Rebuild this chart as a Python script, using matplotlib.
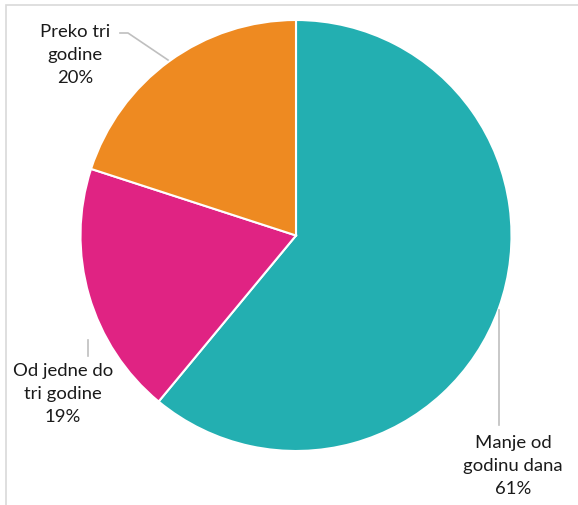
import matplotlib
matplotlib.use("Agg")
import matplotlib.pyplot as plt
from matplotlib.patches import Rectangle

# podaci
kategorije = ["Manje od\ngodinu dana", "Od jedne do\ntri godine", "Preko tri\ngodine"]
udjeli = [61, 19, 20]
boje = ["#23AFB1", "#E02383", "#EE8A21"]

W, H = 578, 505
fig = plt.figure(figsize=(W / 100, H / 100), dpi=100)
ax = fig.add_axes([0, 0, 1, 1])

# okvir (vidljiv samo gore i lijevo)
ax.add_patch(Rectangle((6, -20), W + 20, H - 5 + 20, fill=False,
                       edgecolor="#D9D9D9", lw=1.2))

cx, cy, r = 296, H - 235.5, 215.5
ax.pie(udjeli, colors=boje, startangle=90, counterclock=False,
       center=(cx, cy), radius=r, frame=True,
       wedgeprops=dict(edgecolor="white", linewidth=1.5))
ax.set_xlim(0, W)
ax.set_ylim(0, H)
ax.set_aspect("equal")
ax.axis("off")

# pozicije oznaka (px)
pos = [(513, 466), (63, 394), (75, 55)]
for kat, u, (x, y) in zip(kategorije, udjeli, pos):
    ax.text(x, H - y, "%s\n%d%%" % (kat, u), ha="center", va="center",
            fontsize=13.3, family="Lato", color="#1a1a1a", linespacing=1.55)

# linije do oznaka
lc = "#BFBFBF"
ax.plot([499, 499], [H - 310, H - 425], color=lc, lw=1.2)
ax.plot([88, 88], [H - 340, H - 356], color=lc, lw=1.2)
ax.plot([120, 128, 168], [H - 33, H - 33, H - 60], color=lc, lw=1.2)

fig.savefig("out.png", dpi=100)
